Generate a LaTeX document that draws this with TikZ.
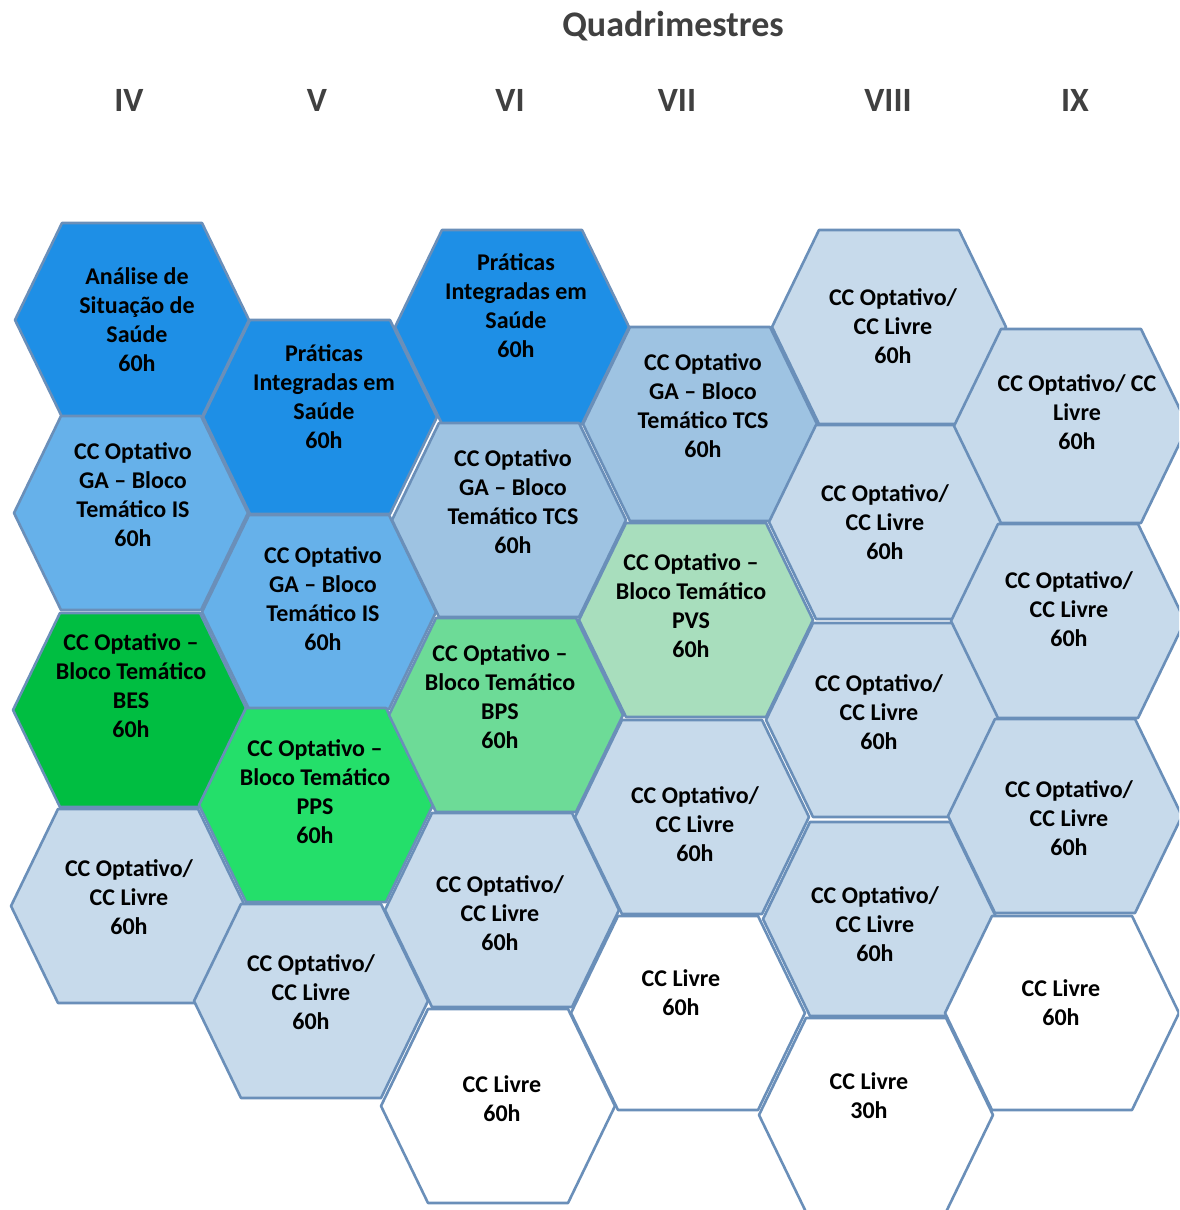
\documentclass[tikz,border=0pt]{standalone}
\usepackage{fontspec}
\setmainfont{Carlito}
\definecolor{azulEsc}{HTML}{1E8FE6}
\definecolor{azulMed}{HTML}{66B1EA}
\definecolor{azulTCS}{HTML}{9EC3E2}
\definecolor{azulCla}{HTML}{C7DAEB}
\definecolor{verdeEsc}{HTML}{00BE41}
\definecolor{verdeVivo}{HTML}{24DF6A}
\definecolor{verdeMed}{HTML}{6DDB97}
\definecolor{verdeCla}{HTML}{A8DEBD}
\definecolor{borda}{HTML}{6A8FB9}
\begin{document}
\begin{tikzpicture}[x=0.5pt,y=-0.5pt,line join=round,font=\bfseries\fontsize{12}{14.5}\selectfont]
\def\a{117}
\def\b{70}
\def\h{97}
\tikzset{hexa/.pic={
\path[pic actions](-\a,0)--(-\b,-\h)--(\b,-\h)--(\a,0)--(\b,\h)--(-\b,\h)--cycle;
}}
\clip (0,0) rectangle (1179,1210);
\node[font=\bfseries\fontsize{18}{20}\selectfont,black!75] (titulo) at (673,26) {Quadrimestres};
\foreach \q/\x in {IV/129,V/317,VI/510,VII/677,VIII/888,IX/1075}
  \node[font=\bfseries\fontsize{17}{20}\selectfont,black!75] (q\q) at (\x,100) {\q};
\foreach \n/\hx/\hy/\cor/\tx/\ty/\txt in {
IVa/132/320/azulEsc/137/320/{Análise de\\Situação de\\Saúde\\60h},
IVb/131/513/azulMed/133/495/{CC Optativo\\GA – Bloco\\Temático IS\\60h},
IVc/130/710/verdeEsc/131/686/{CC Optativo –\\Bloco Temático\\BES\\60h},
IVd/128/906/azulCla/129/897/{CC Optativo/\\CC Livre\\60h},
Va/320/417/azulEsc/324/397/{Práticas\\Integradas em\\Saúde\\60h},
Vb/319/612/azulMed/323/599/{CC Optativo\\GA – Bloco\\Temático IS\\60h},
Vc/316/805/verdeVivo/315/792/{CC Optativo –\\Bloco Temático\\PPS\\60h},
Vd/311/1001/azulCla/311/992/{CC Optativo/\\CC Livre\\60h},
VIa/512/327/azulEsc/516/306/{Práticas\\Integradas em\\Saúde\\60h},
VIb/509/520/azulTCS/513/502/{CC Optativo\\GA – Bloco\\Temático TCS\\60h},
VIc/506/715/verdeMed/500/697/{CC Optativo –\\Bloco Temático\\BPS\\60h},
VId/502/910/azulCla/500/913/{CC Optativo/\\CC Livre\\60h},
VIe/498/1106/white/502/1099/{CC Livre\\60h},
VIIa/700/424/azulTCS/703/406/{CC Optativo\\GA – Bloco\\Temático TCS\\60h},
VIIb/696/620/verdeCla/691/606/{CC Optativo –\\Bloco Temático\\PVS\\60h},
VIIc/692/817/azulCla/695/824/{CC Optativo/\\CC Livre\\60h},
VIId/688/1013/white/681/993/{CC Livre\\60h},
VIIIa/889/327/azulCla/893/326/{CC Optativo/\\CC Livre\\60h},
VIIIb/886/522/azulCla/885/522/{CC Optativo/\\CC Livre\\60h},
VIIIc/883/720/azulCla/879/712/{CC Optativo/\\CC Livre\\60h},
VIIId/880/919/azulCla/875/924/{CC Optativo/\\CC Livre\\60h},
VIIIe/876/1115/white/869/1096/{CC Livre\\30h},
IXa/1071/426/azulCla/1077/412/{CC Optativo/ CC\\Livre\\60h},
IXb/1068/621/azulCla/1069/609/{CC Optativo/\\CC Livre\\60h},
IXc/1065/816/azulCla/1069/818/{CC Optativo/\\CC Livre\\60h},
IXd/1062/1013/white/1061/1003/{CC Livre\\60h}}{
\path (\hx,\hy) pic[fill=\cor,draw=borda,line width=1.3pt]{hexa};
\node[align=center] (t\n) at (\tx,\ty) {\txt};
}
\end{tikzpicture}
\end{document}
